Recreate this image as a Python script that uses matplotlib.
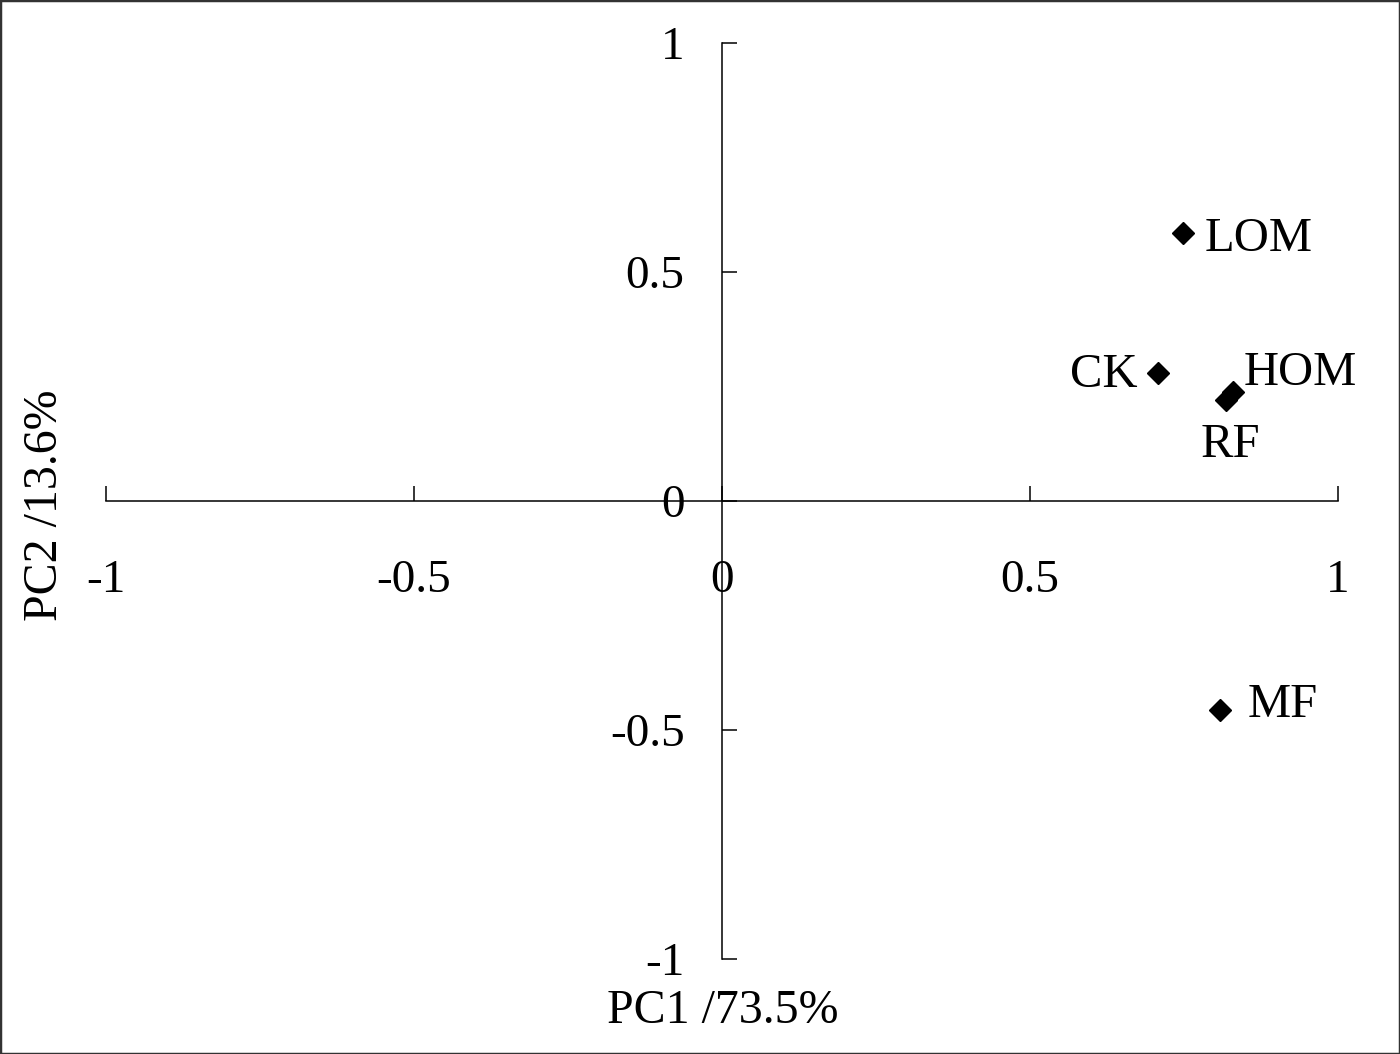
import matplotlib
matplotlib.use('Agg')
import matplotlib.pyplot as plt
from matplotlib.patches import Rectangle

plt.rcParams['font.family'] = ['Liberation Serif', 'DejaVu Serif']

# PCA scores
labels = ['LOM', 'CK', 'HOM', 'RF', 'MF']
pc1 = [0.748, 0.708, 0.829, 0.818, 0.808]
pc2 = [0.585, 0.279, 0.238, 0.221, -0.456]
ticks = [-1, -0.5, 0, 0.5, 1]
tick_labels = ['-1', '-0.5', '0', '0.5', '1']

# label offsets (points) and alignment per point
offsets = {'LOM': (16, -13, 'left'), 'CK': (-15, -10, 'right'),
           'HOM': (8, 5, 'left'), 'RF': (3, -41, 'center'),
           'MF': (20, -5, 'left')}

W, H = 1400, 1054
fig = plt.figure(figsize=(W / 100, H / 100), dpi=100)
ax = fig.add_axes([106 / W, 1 - 959 / H, 1232 / W, 916 / H])
ax.set_xlim(-1, 1)
ax.set_ylim(-1, 1)

for s in ['top', 'right']:
    ax.spines[s].set_visible(False)
for s in ['left', 'bottom']:
    ax.spines[s].set_position(('data', 0))
    ax.spines[s].set_linewidth(1.1)

ax.set_xticks(ticks)
ax.set_xticklabels(tick_labels)
ax.set_yticks(ticks)
ax.set_yticklabels(tick_labels)
ax.tick_params(axis='x', direction='in', length=11, width=1.1, pad=42, labelsize=34)
ax.tick_params(axis='y', direction='in', length=11, width=1.1, pad=27, labelsize=34)

ax.plot(pc1, pc2, 'D', color='black', markersize=11, clip_on=False)
for name, x, y in zip(labels, pc1, pc2):
    dx, dy, ha = offsets[name]
    ax.annotate(name, (x, y), xytext=(dx, dy), textcoords='offset points',
                ha=ha, va='baseline', fontsize=35)

fig.text(723 / W, 1 - 1023 / H, 'PC1 /73.5%', ha='center', va='baseline', fontsize=34.5)
fig.text(45 / W, 1 - 505 / H, 'PC2 /13.6%', ha='center', va='center', rotation=90, fontsize=34.5)

fig.patches.append(Rectangle((0, 0), 1, 1, transform=fig.transFigure, fill=False,
                             edgecolor='#333333', linewidth=2.5))

fig.savefig('out.png', dpi=100)
